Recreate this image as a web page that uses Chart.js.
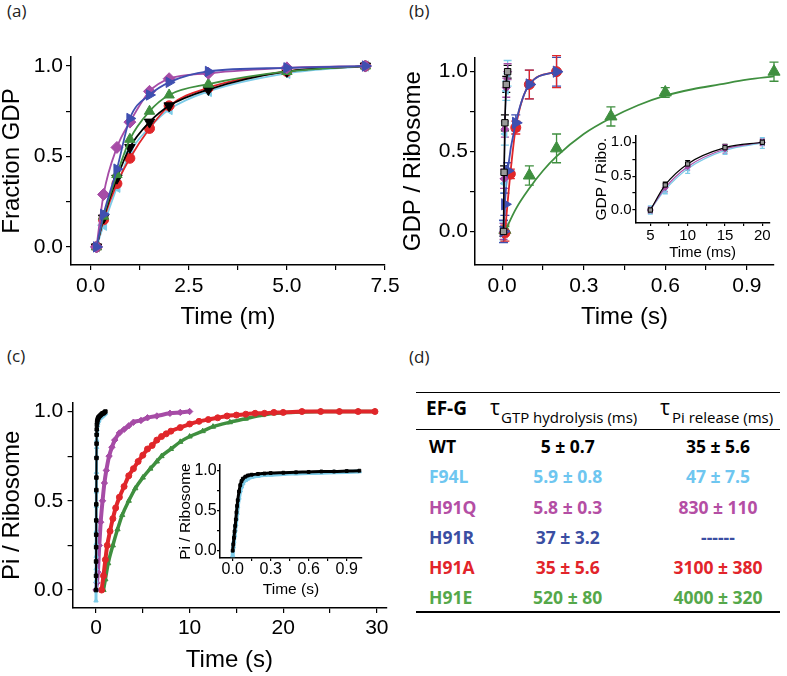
<!DOCTYPE html>
<html>
<head>
<meta charset="utf-8">
<script src="https://cdn.jsdelivr.net/npm/chart.js@4.4.1/dist/chart.umd.min.js"></script>
<style>
  body { margin: 0; background: #fff; }
  #page { position: relative; width: 787px; height: 676px; overflow: hidden; background: #fff; }
  canvas { position: absolute; }
  .lbl { position: absolute; font-family: "Open Sans", sans-serif; font-size: 17px; line-height: 17px; color: #222; }
  .rule { position: absolute; left: 416px; width: 364px; height: 1.5px; background: #000; }
  .cell { position: absolute; font-family: "Open Sans", sans-serif; font-weight: bold; font-size: 17.5px; line-height: 17.5px; white-space: nowrap; }
  .hd { position: absolute; font-family: "Open Sans", sans-serif; white-space: nowrap; color: #000; }
</style>
</head>
<body>
<div id="page">
  <div class="lbl" style="left:7px;top:2px">(a)</div>
  <div class="lbl" style="left:409px;top:2px">(b)</div>
  <div class="lbl" style="left:7px;top:347px">(c)</div>
  <div class="lbl" style="left:409px;top:348px">(d)</div>

  <canvas id="ca" width="400" height="300" style="left:0;top:40px"></canvas>
  <canvas id="cb" width="397" height="300" style="left:390px;top:40px"></canvas>
  <canvas id="cbi" width="195" height="140" style="left:585px;top:125px"></canvas>
  <canvas id="cc" width="400" height="316" style="left:0;top:360px"></canvas>
  <canvas id="cci" width="205" height="150" style="left:165px;top:455px"></canvas>

  <div class="rule" style="top:391.5px"></div>
  <div class="rule" style="top:428.5px"></div>
  <div class="rule" style="top:611px"></div>
  <div class="hd" style="left:426px;top:398.5px;font-size:19px;line-height:19px;font-weight:bold">EF-G</div>
  <div class="hd" style="left:490px;top:397px;font-size:21px;line-height:21px">τ</div>
  <div class="hd" style="left:501px;top:410px;font-size:15px;line-height:15px">GTP hydrolysis (ms)</div>
  <div class="hd" style="left:660px;top:397px;font-size:21px;line-height:21px">τ</div>
  <div class="hd" style="left:672px;top:410px;font-size:15px;line-height:15px">Pi release (ms)</div>
  <div id="rows"></div>
</div>

<script>
// ---- data: panel (a), fraction GDP vs time (min)
const aTime = [0.15, 0.33, 0.67, 1, 1.5, 2, 3, 5, 7];
const aWT   = [0, 0.16, 0.38, 0.55, 0.69, 0.78, 0.87, 0.97, 1.0];
const aF94L = [0, 0.12, 0.33, 0.52, 0.66, 0.76, 0.86, 0.96, 1.0];
const aH91Q = [0, 0.29, 0.55, 0.69, 0.86, 0.93, 0.96, 0.99, 1.0];
const aH91R = [0, 0.18, 0.43, 0.71, 0.84, 0.91, 0.97, 0.99, 1.0];
const aH91A = [0, 0.15, 0.35, 0.49, 0.655, 0.78, 0.88, 0.97, 1.0];
const aH91E = [0, 0.17, 0.40, 0.595, 0.75, 0.84, 0.90, 0.97, 1.0];

// ---- data: panel (b), GDP / ribosome (quench flow)
const bTimeFast = [0.005, 0.007, 0.010, 0.015, 0.020];   // s
const bTimeMs   = [5, 7, 10, 15, 20];                     // ms (inset)
const bWT   = [0, 0.37, 0.68, 0.92, 1.0];
const bF94L = [0, 0.30, 0.61, 0.88, 0.99];
const bH91Q = [0, 0.33, 0.64, 0.90, 1.0];
const eWT   = [0.03, 0.04, 0.05, 0.05, 0.04];
const eF94L = [0.06, 0.06, 0.07, 0.06, 0.08];
const eH91Q = [0.05, 0.06, 0.05, 0.06, 0.05];
const bTimeR = [0.005, 0.01, 0.02, 0.05, 0.1, 0.2];
const bH91R  = [0, 0.17, 0.38, 0.68, 0.92, 1.0];
const eH91R  = [0.07, 0.07, 0.05, 0.05, 0.09, 0.09];
const bTimeA = [0.01, 0.03, 0.05, 0.1, 0.2];
const bH91A  = [-0.01, 0.36, 0.65, 0.92, 1.0];
const eH91A  = [0.05, 0.03, 0.04, 0.09, 0.10];
const bTimeE = [0.01, 0.1, 0.2, 0.4, 0.6, 1.0];
const bH91E  = [0.01, 0.35, 0.52, 0.72, 0.87, 1.0];
const eH91E  = [0.02, 0.06, 0.09, 0.06, 0.03, 0.06];
const bFitTimeE = [0.01, 0.05, 0.1, 0.15, 0.2, 0.3, 0.4, 0.5, 0.6, 0.7, 0.8, 0.9, 1.0];
const bFitE     = [0, 0.14, 0.27, 0.38, 0.47, 0.61, 0.71, 0.79, 0.85, 0.89, 0.92, 0.95, 0.97];

// ---- data: panel (c), Pi / ribosome (stopped flow)
const cTimeWT = [0, 0.005, 0.01, 0.015, 0.02, 0.025, 0.03, 0.035, 0.04, 0.05, 0.06, 0.07, 0.08, 0.1, 0.12, 0.15, 0.2, 0.25, 0.3, 0.4, 0.5, 0.6, 0.7, 0.8, 0.9, 1.0];
const cWT   = [0, 0.08, 0.16, 0.24, 0.31, 0.39, 0.48, 0.56, 0.63, 0.74, 0.82, 0.87, 0.9, 0.925, 0.94, 0.95, 0.96, 0.965, 0.97, 0.975, 0.98, 0.985, 0.99, 0.99, 0.995, 1.0];
const cF94L = [-0.06, 0.05, 0.12, 0.19, 0.26, 0.33, 0.4, 0.47, 0.55, 0.66, 0.75, 0.8, 0.84, 0.88, 0.9, 0.92, 0.935, 0.945, 0.95, 0.96, 0.965, 0.97, 0.975, 0.98, 0.985, 0.99];
const cTimeQ = [0, 0.1, 0.2, 0.35, 0.5, 0.7, 0.9, 1.1, 1.4, 1.7, 2.0, 2.5, 3.0, 3.5, 4, 4.8, 5.5, 6.5, 7.9, 9, 10];
const cH91Q  = [0, 0.04, 0.1, 0.25, 0.38, 0.5, 0.6, 0.67, 0.75, 0.8, 0.84, 0.88, 0.9, 0.92, 0.94, 0.95, 0.965, 0.975, 0.99, 0.995, 1.0];
const cTimeA = [0.6, 0.8, 1.0, 1.2, 1.5, 1.8, 2.1, 2.5, 3.0, 3.5, 4.0, 4.5, 5.0, 5.5, 6, 6.5, 7, 7.5, 8, 9, 10, 11, 12, 13, 14, 15, 16, 17, 18, 19, 20, 22, 24, 26, 28, 29.8];
const cH91A  = [0, 0.08, 0.17, 0.25, 0.33, 0.40, 0.46, 0.52, 0.58, 0.64, 0.68, 0.72, 0.755, 0.79, 0.81, 0.84, 0.86, 0.875, 0.89, 0.91, 0.93, 0.945, 0.955, 0.965, 0.975, 0.98, 0.985, 0.99, 0.99, 0.995, 0.995, 1.0, 1.0, 1.0, 1.0, 1.0];
const cTimeE = [0.8, 1.0, 1.3, 1.8, 2.3, 2.8, 3.5, 4.2, 5, 5.8, 6.5, 7, 8, 9, 10, 11.4, 12.5, 14.3, 16, 17.8, 19, 20, 22, 24, 26, 28, 29.8];
const cH91E  = [0, 0.06, 0.15, 0.25, 0.34, 0.42, 0.5, 0.57, 0.63, 0.68, 0.72, 0.75, 0.79, 0.83, 0.86, 0.89, 0.915, 0.94, 0.96, 0.98, 0.99, 0.993, 0.998, 1.0, 1.0, 1.0, 1.0];

// ---- tick labels
const aXTicks = [0, 2.5, 5, 7.5], aXMinor = [1.25, 3.75, 6.25];
const unitTicks = [0, 0.5, 1], unitMinor = [0.25, 0.75];
const bXTicks = [0, 0.3, 0.6, 0.9], bXMinor = [0.15, 0.45, 0.75];
const cXTicks = [0, 10, 20, 30], cXMinor = [5, 15, 25];
const biXTicks = [5, 10, 15, 20], biXMinor = [7.5, 12.5, 17.5];

// ---- table (d)
const tStrains = ['WT', 'F94L', 'H91Q', 'H91R', 'H91A', 'H91E'];
const tauGTP = ['5 ± 0.7', '5.9 ± 0.8', '5.8 ± 0.3', '37 ± 3.2', '35 ± 5.6', '520 ± 80'];
const tauPi  = ['35 ± 5.6', '47 ± 7.5', '830 ± 110', '------', '3100 ± 380', '4000 ± 320'];

const COL = { WT: '#000000', F94L: '#7ccbe8', H91Q: '#a64ca6', H91R: '#3f4fb0', H91A: '#e0262a', H91E: '#3f8f3f' };
const TCOL = { WT: '#000000', F94L: '#6ec6f0', H91Q: '#b44ea4', H91R: '#3a4ea2', H91A: '#e2242a', H91E: '#55a84a' };
const FONT = '"Liberation Sans", Arial, sans-serif';

// table rows
const rows = document.getElementById('rows');
tStrains.forEach((s, i) => {
  const top = 447.5 + i * 30.2 - 9.3;
  const cells = [[s, 'left:429px'], [tauGTP[i], 'left:517.7px;width:100px;text-align:center'], [tauPi[i], 'left:668px;width:100px;text-align:center']];
  cells.forEach(c => {
    const d = document.createElement('div');
    d.className = 'cell';
    d.textContent = c[0];
    d.style.cssText = c[1] + ';top:' + top + 'px;color:' + TCOL[s];
    rows.appendChild(d);
  });
});

function pts(xs, ys) { return xs.map((x, i) => ({ x: x, y: ys[i] })); }

// error bars drawn from each dataset's errors array through its y scale
const errorBars = {
  id: 'errorBars',
  beforeDatasetsDraw(chart) {
    const ctx = chart.ctx;
    chart.data.datasets.forEach((ds, k) => {
      if (!ds.errors) return;
      const meta = chart.getDatasetMeta(k);
      const ys = chart.scales[meta.yAxisID];
      ctx.save();
      ctx.strokeStyle = ds.borderColor;
      ctx.lineWidth = 1.3;
      meta.data.forEach((el, i) => {
        const v = ds.data[i].y, e = ds.errors[i];
        const y1 = ys.getPixelForValue(v + e), y2 = ys.getPixelForValue(v - e);
        const w = ds.capW || 4;
        ctx.beginPath();
        ctx.moveTo(el.x, y1); ctx.lineTo(el.x, y2);
        ctx.moveTo(el.x - w, y1); ctx.lineTo(el.x + w, y1);
        ctx.moveTo(el.x - w, y2); ctx.lineTo(el.x + w, y2);
        ctx.stroke();
      });
      ctx.restore();
    });
  }
};

function axis(o) {
  const all = o.major.concat(o.minor).sort((p, q) => p - q);
  return {
    type: 'linear', position: o.pos, min: o.min, max: o.max,
    grid: { display: true, drawOnChartArea: false, drawTicks: true, tickLength: o.tl, color: '#000', lineWidth: 1.2 },
    border: { display: true, color: '#000', width: 1.5 },
    ticks: {
      autoSkip: false, maxRotation: 0, padding: o.pad, color: '#000',
      font: { family: FONT, size: o.fs, lineHeight: 1 },
      callback: v => o.major.includes(v) ? v.toFixed(o.dec) : ''
    },
    title: { display: true, text: o.title, color: '#000', font: { family: FONT, size: o.tfs, lineHeight: 1 }, padding: { top: o.tpad, bottom: o.tpad } },
    afterBuildTicks: s => { s.ticks = all.map(v => ({ value: v })); },
    afterFit: s => {
      if (o.pos === 'left') s.width = o.size; else s.height = o.size;
      s.paddingLeft = 0; s.paddingRight = 0; s.paddingTop = 0; s.paddingBottom = 0;
    }
  };
}

function series(xs, ys, color, o) {
  return Object.assign({
    data: pts(xs, ys), borderColor: color, backgroundColor: color,
    pointBackgroundColor: color, pointBorderColor: color, pointBorderWidth: 1,
    borderWidth: 1.8, cubicInterpolationMode: 'monotone', clip: false
  }, o);
}

function makeChart(id, datasets, x, y, pad) {
  return new Chart(document.getElementById(id), {
    type: 'line',
    data: { datasets: datasets },
    options: {
      responsive: false, animation: false, devicePixelRatio: 1,
      layout: { padding: pad },
      plugins: { legend: { display: false }, tooltip: { enabled: false } },
      scales: { x: x, y: y }
    },
    plugins: [errorBars]
  });
}

// ---- (a)
makeChart('ca', [
  series(aTime, aH91R, COL.H91R, { pointStyle: 'triangle', rotation: 90, pointRadius: 6, order: 1 }),
  series(aTime, aH91Q, COL.H91Q, { pointStyle: 'rectRot', pointRadius: 6, order: 2 }),
  series(aTime, aH91E, COL.H91E, { pointStyle: 'triangle', pointRadius: 6, order: 3 }),
  series(aTime, aWT, COL.WT, { pointStyle: 'triangle', rotation: 180, pointRadius: 6, order: 4 }),
  series(aTime, aH91A, COL.H91A, { pointStyle: 'circle', pointRadius: 5, order: 5 }),
  series(aTime, aF94L, COL.F94L, { pointStyle: 'triangle', rotation: -90, pointRadius: 6, order: 6 })
],
  axis({ pos: 'bottom', min: -0.5, max: 7.5, major: aXTicks, minor: aXMinor, tl: 5, pad: 6, fs: 21, dec: 1, title: 'Time (m)', tfs: 24, tpad: 11, size: 75 }),
  axis({ pos: 'left', min: -0.1, max: 1.05, major: unitTicks, minor: unitMinor, tl: 5, pad: 3, fs: 21, dec: 1, title: 'Fraction GDP', tfs: 24, tpad: 0, size: 71 }),
  { left: 0, top: 17, right: 15, bottom: 0 });

// ---- (b)
makeChart('cb', [
  series(bTimeFast, bWT, COL.WT, { pointStyle: 'rect', pointRadius: 4.5, pointBackgroundColor: '#9a9a9a', borderWidth: 1.6, errors: eWT, order: 1 }),
  series(bTimeFast, bF94L, COL.F94L, { pointStyle: 'triangle', rotation: -90, pointRadius: 4, borderWidth: 1.2, errors: eF94L, order: 3 }),
  series(bTimeFast, bH91Q, COL.H91Q, { pointStyle: 'rectRot', pointRadius: 4, borderWidth: 1.2, errors: eH91Q, order: 2 }),
  series(bTimeR, bH91R, COL.H91R, { pointStyle: 'triangle', rotation: 90, pointRadius: 6.5, errors: eH91R, capW: 4.5, order: 4 }),
  series(bTimeA, bH91A, COL.H91A, { pointStyle: 'circle', pointRadius: 5, errors: eH91A, capW: 4.5, order: 5 }),
  series(bTimeE, bH91E, COL.H91E, { pointStyle: 'triangle', pointRadius: 7, showLine: false, errors: eH91E, capW: 4.5, order: 6 }),
  series(bFitTimeE, bFitE, COL.H91E, { pointRadius: 0, order: 7 })
],
  axis({ pos: 'bottom', min: -0.1, max: 1.0, major: bXTicks, minor: bXMinor, tl: 5, pad: 6, fs: 21, dec: 1, title: 'Time (s)', tfs: 24, tpad: 11, size: 75 }),
  axis({ pos: 'left', min: -0.21, max: 1.09, major: unitTicks, minor: unitMinor, tl: 5, pad: 2, fs: 21, dec: 1, title: 'GDP / Ribosome', tfs: 24, tpad: 11, size: 85 }),
  { left: 0, top: 17.3, right: 13, bottom: 0 });

// ---- (b) inset
makeChart('cbi', [
  series(bTimeMs, bWT, COL.WT, { pointStyle: 'rect', pointRadius: 3, pointBackgroundColor: '#9a9a9a', borderWidth: 1.2, errors: eWT, capW: 2.5, order: 1 }),
  series(bTimeMs, bH91Q, COL.H91Q, { pointStyle: 'rectRot', pointRadius: 3, borderWidth: 1.2, errors: eH91Q, capW: 2.5, order: 2 }),
  series(bTimeMs, bF94L, COL.F94L, { pointStyle: 'triangle', rotation: -90, pointRadius: 3, borderWidth: 1.2, errors: eF94L, capW: 2.5, order: 3 })
],
  axis({ pos: 'bottom', min: 3, max: 21, major: biXTicks, minor: biXMinor, tl: 3, pad: 2, fs: 15, dec: 0, title: 'Time (ms)', tfs: 15, tpad: 5, size: 42.1 }),
  axis({ pos: 'left', min: -0.19, max: 1.1, major: unitTicks, minor: unitMinor, tl: 3, pad: 0.7, fs: 15, dec: 1, title: 'GDP / Ribo.', tfs: 15.5, tpad: 9.2, size: 50.4 }),
  { left: 0, top: 10.5, right: 10.2, bottom: 0 });

// ---- (c)
makeChart('cc', [
  series(cTimeWT, cWT, COL.WT, { pointStyle: 'rect', pointRadius: 2.5, borderWidth: 2, order: 1 }),
  series(cTimeWT, cF94L, COL.F94L, { pointStyle: 'triangle', pointRadius: 2.5, borderWidth: 3, order: 2 }),
  series(cTimeQ, cH91Q, COL.H91Q, { pointStyle: 'rectRot', pointRadius: 3.2, borderWidth: 4, order: 3 }),
  series(cTimeA, cH91A, COL.H91A, { pointStyle: 'circle', pointRadius: 3, borderWidth: 4, order: 4 }),
  series(cTimeE, cH91E, COL.H91E, { pointStyle: 'triangle', pointRadius: 3, borderWidth: 3.5, order: 5 })
],
  axis({ pos: 'bottom', min: -2.5, max: 31, major: cXTicks, minor: cXMinor, tl: 5, pad: 4.5, fs: 21, dec: 0, title: 'Time (s)', tfs: 24, tpad: 4, size: 68.1 }),
  axis({ pos: 'left', min: -0.1, max: 1.05, major: unitTicks, minor: unitMinor, tl: 5, pad: 4.3, fs: 21, dec: 1, title: 'Pi / Ribosome', tfs: 24, tpad: 0, size: 72.6 }),
  { left: 0, top: 42.6, right: 13.8, bottom: 0 });

// ---- (c) inset
makeChart('cci', [
  series(cTimeWT, cWT, COL.WT, { pointStyle: 'rect', pointRadius: 2, borderWidth: 3, order: 1 }),
  series(cTimeWT, cF94L, COL.F94L, { pointStyle: 'triangle', pointRadius: 2.5, borderWidth: 4, order: 2 })
],
  axis({ pos: 'bottom', min: -0.1, max: 1.02, major: bXTicks, minor: bXMinor, tl: 3, pad: 1, fs: 16, dec: 1, title: 'Time (s)', tfs: 15.5, tpad: 7.5, size: 47.1 }),
  axis({ pos: 'left', min: -0.09, max: 1.07, major: unitTicks, minor: unitMinor, tl: 3, pad: 0.3, fs: 16, dec: 1, title: 'Pi / Ribosome', tfs: 15.5, tpad: 12.5, size: 55 }),
  { left: 0, top: 10.1, right: 8.1, bottom: 0 });
</script>
</body>
</html>
